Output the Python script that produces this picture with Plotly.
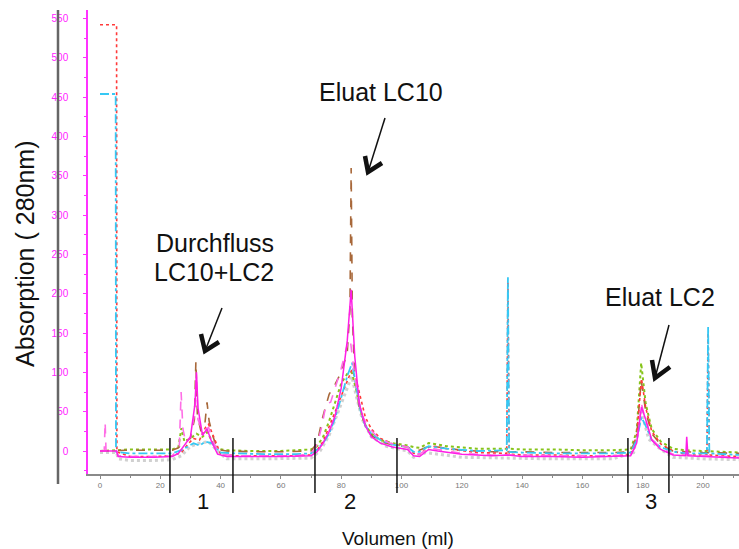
import plotly.graph_objects as go

W, H = 739, 549

# ---- data (ml, absorption) ----
red_x = [0, 5.5, 5.6, 10, 18, 24, 27, 29, 31, 33, 35, 36, 37.5, 40, 45, 55, 65, 70, 72, 74, 76, 78, 80, 82, 83.5, 85, 86.5, 88, 90, 93, 97, 102, 104, 106, 109, 111, 115, 125, 134.9, 135.3, 135.7, 140, 150, 160, 170, 176, 178, 179.6, 181, 183, 186, 190, 195, 201.3, 201.7, 202.1, 206, 212]
red_y = [542, 542, -1, -7, -7, -6, -2, 8, 16, 14, 30, 34, 20, -4, -6, -6, -6, -5, 1, 12, 30, 50, 70, 88, 103, 90, 65, 43, 28, 16, 9, 5, -3, -4, 5, 6, 3, -2, -3, 215, -4, -5, -5, -6, -6, -5, 20, 92, 55, 25, 9, 0, -5, -5, 150, -5, -6, -7]

cyan_x = [0, 5.2, 5.3, 10, 18, 24, 27, 29, 31, 33, 35, 37, 40, 45, 55, 65, 70, 72, 74, 76, 78, 80, 82, 83.6, 85, 86.5, 88, 90, 93, 97, 102, 104, 106, 109, 111, 115, 125, 134.9, 135.3, 135.7, 140, 150, 160, 170, 176, 178, 179.6, 181, 183, 186, 190, 195, 201.3, 201.7, 202.1, 206, 212]
cyan_y = [454, 454, -1, -3, -3, -3, 1, 6, 10, 7, 12, 10, -2, -3, -4, -4, -3, 2, 10, 22, 42, 68, 95, 112, 82, 50, 32, 22, 14, 8, 5, -1, -1, 6, 5, 3, 0, 1, 221, -1, -2, -3, -3, -3, -2, 14, 43, 32, 14, 5, -1, -3, -3, 158, -3, -4, -5]

green_x = [0, 3, 5.5, 10, 18, 24, 26, 27, 28, 30, 32, 34, 35.5, 37, 39, 42, 50, 60, 70, 72, 74, 76, 78, 80, 82, 83.5, 85, 86.5, 88, 90, 93, 97, 102, 104, 106, 109, 111, 115, 125, 135, 140, 150, 160, 170, 176, 178, 179.5, 181, 183, 186, 190, 194, 200, 206, 212]
green_y = [0, 1, 1, 2, 2, 2, 5, 29, 12, 16, 22, 18, 24, 14, 3, 1, 0, 0, 2, 6, 18, 38, 62, 86, 98, 100, 78, 50, 33, 22, 14, 10, 7, 5, 4, 10, 9, 6, 3, 3, 2, 2, 1, 1, 2, 25, 112, 60, 28, 12, 3, 1, 0, -1, -2]

magenta_x = [0, 5.5, 6, 10, 18, 24, 26, 28, 30, 31.5, 32, 32.5, 34, 35.5, 37, 39, 42, 50, 60, 70, 72, 74, 76, 78, 80, 82, 83.3, 84.5, 86, 88, 90, 93, 97, 102, 104, 106, 109, 112, 120, 130, 135, 140, 150, 160, 170, 176, 178, 179.6, 181, 183, 186, 190, 194.3, 194.6, 195, 200, 206, 212]
magenta_y = [0, 0, -7, -8, -8, -7, -3, 8, 18, 60, 100, 55, 20, 28, 12, -4, -7, -7, -7, -6, -1, 10, 25, 45, 80, 140, 205, 120, 60, 32, 18, 10, 5, 2, -6, -7, 2, 0, -4, -6, -5, -7, -7, -8, -7, -6, 10, 56, 40, 14, 2, -5, -6, 18, -6, -7, -8, -9]

brown_x = [0, 5.5, 10, 18, 24, 26, 28, 30, 31.3, 31.8, 32.3, 33.5, 34.8, 35.5, 36.2, 37.5, 39, 42, 50, 60, 70, 72, 74, 76, 78, 80, 82, 82.9, 83.3, 83.7, 84.5, 86, 88, 90, 93, 97, 102, 104, 106, 109, 112, 120, 130, 140, 150, 160, 170, 176, 178, 179.5, 181, 183, 186, 190, 200, 212]
brown_y = [0, 1, 1, 1, 1, 4, 12, 16, 40, 114, 45, 25, 35, 62, 38, 18, 2, 0, -1, -1, 0, 10, 45, 72, 85, 100, 125, 180, 360, 170, 95, 55, 32, 20, 12, 8, 5, 2, 1, 6, 5, 1, -1, -1, -2, -2, -2, -1, 18, 90, 50, 22, 8, 0, -2, -3]

pink_x = [0, 1.4, 1.7, 2.0, 5.5, 6, 10, 18, 24, 26.3, 26.9, 27.5, 28.5, 30, 31.5, 32, 32.5, 34, 36, 38, 40, 45, 55, 65, 70, 72, 73.5, 75, 76.5, 78, 80, 82, 83, 84, 85.5, 87, 89, 92, 96, 102, 104, 106, 109, 112, 120, 130, 140, 150, 160, 170, 176, 178, 179.6, 181, 183, 186, 190, 200, 212]
pink_y = [0, 0, 37, 0, 0, -6, -7, -7, -6, 5, 75, 28, 10, 18, 50, 95, 40, 25, 30, 8, -4, -6, -6, -6, -4, 8, 30, 60, 62, 80, 105, 135, 142, 110, 70, 45, 30, 18, 10, 5, -3, -4, 4, 2, -3, -5, -5, -6, -6, -6, -5, 8, 60, 38, 15, 4, -4, -6, -8]

grey_x = [0, 5.5, 6, 10, 18, 24, 27, 30, 33, 36, 39, 42, 55, 70, 73, 76, 79, 82, 83.5, 85, 87, 90, 95, 102, 104, 108, 112, 120, 135, 150, 170, 177, 179.6, 182, 186, 190, 200, 212]
grey_y = [-2, -2, -10, -12, -12, -11, -6, 6, 10, 12, 0, -10, -10, -9, 0, 20, 50, 80, 95, 70, 40, 18, 6, 0, -8, -2, -4, -8, -9, -10, -10, -2, 50, 15, 2, -8, -10, -11]

section_bounds_ml = [23.2, 44.1, 71.3, 98.5, 175.1, 188.7]
section_labels = ["1", "2", "3"]
section_label_ml = [34.2, 83.0, 182.7]

x_ticks = [0, 20, 40, 60, 80, 100, 120, 140, 160, 180, 200]
y_ticks = [0, 50, 100, 150, 200, 250, 300, 350, 400, 450, 500, 550]

series = [
    ("grey", grey_x, grey_y, "rgba(150,150,150,0.45)", "dot", 3),
    ("green", green_x, green_y, "#86c41a", "dot", 2),
    ("brown", brown_x, brown_y, "#a8683a", "dash", 1.6),
    ("red", red_x, red_y, "#ff3a3a", "dot", 1.6),
    ("cyan", cyan_x, cyan_y, "#36c8f4", "dashdot", 1.8),
    ("pink", pink_x, pink_y, "#ff6ee6", "dash", 1.6),
    ("magenta", magenta_x, magenta_y, "#ff1ee6", "solid", 1.5),
]

fig = go.Figure()
for name, xs, ys, col, dash, wd in series:
    fig.add_trace(go.Scatter(x=xs, y=ys, mode="lines", name=name,
                             line=dict(color=col, dash=dash, width=wd),
                             showlegend=False, hoverinfo="skip"))


def px(x):
    return x / W


def py(y):
    return 1 - y / H


FONT = "Liberation Sans, Arial, Helvetica, sans-serif"

shapes = []
# slide frame line on the left
shapes.append(dict(type="line", xref="paper", yref="paper", x0=px(58), x1=px(58),
                   y0=py(10), y1=py(484), line=dict(color="#666666", width=2.5)))
# section boundary lines
for b in section_bounds_ml:
    shapes.append(dict(type="line", xref="x", yref="paper", x0=b, x1=b,
                       y0=py(438), y1=py(493), line=dict(color="#111111", width=1.5)))

# arrows: (tail, tip, left arm, right arm) in pixels
arrows = [
    ((222, 308), (205, 351), (201, 334), (219, 342)),
    ((385, 118), (368, 172), (365, 156), (382, 163)),
    ((669, 325), (655, 378), (652, 360), (670, 367)),
]
for tail, tip, la, ra in arrows:
    shapes.append(dict(type="line", xref="paper", yref="paper",
                       x0=px(tail[0]), y0=py(tail[1]), x1=px(tip[0]), y1=py(tip[1]),
                       line=dict(color="#111111", width=1.5)))
    path = "M {} {} L {} {} L {} {}".format(px(la[0]), py(la[1]), px(tip[0]), py(tip[1]),
                                           px(ra[0]), py(ra[1]))
    shapes.append(dict(type="path", xref="paper", yref="paper", path=path,
                       line=dict(color="#111111", width=4.5)))

annotations = [
    dict(text="Eluat LC10", x=px(381), y=py(92), xanchor="center", yanchor="middle",
         font=dict(size=25, color="#111111", family=FONT)),
    dict(text="Durchfluss", x=px(154), y=py(243), xanchor="left", yanchor="middle",
         font=dict(size=25, color="#111111", family=FONT)),
    dict(text="LC10+LC2", x=px(152), y=py(272), xanchor="left", yanchor="middle",
         font=dict(size=25, color="#111111", family=FONT)),
    dict(text="Eluat LC2", x=px(603), y=py(297), xanchor="left", yanchor="middle",
         font=dict(size=25, color="#111111", family=FONT)),
    dict(text="Absorption ( 280nm)", x=px(25), y=py(254), xanchor="center", yanchor="middle",
         textangle=-90, font=dict(size=25, color="#111111", family=FONT)),
    dict(text="Volumen (ml)", x=px(398), y=py(538), xanchor="center", yanchor="middle",
         font=dict(size=19, color="#111111", family=FONT)),
]
for lab, ml in zip(section_labels, section_label_ml):
    annotations.append(dict(text=lab, x=ml, xref="x", y=py(501), yref="paper",
                            xanchor="center", yanchor="middle",
                            font=dict(size=22, color="#111111", family=FONT)))
for a in annotations:
    a.setdefault("xref", "paper")
    a.setdefault("yref", "paper")
    a["showarrow"] = False

fig.update_layout(
    width=W, height=H,
    margin=dict(l=0, r=0, t=0, b=0),
    paper_bgcolor="white", plot_bgcolor="white",
    shapes=shapes, annotations=annotations,
    xaxis=dict(domain=[88 / W, 1], range=[-3.98, 211.94], showgrid=False, zeroline=False,
               showline=True, linecolor="#8a8a8a", linewidth=1.5,
               ticks="outside", ticklen=3, tickcolor="#8a8a8a",
               tickvals=x_ticks, ticktext=[str(v) for v in x_ticks],
               minor=dict(dtick=10, ticks="outside", ticklen=2, tickcolor="#8a8a8a"),
               tickfont=dict(size=8, color="#777777", family=FONT)),
    yaxis=dict(domain=[(H - 474) / H, (H - 10) / H], range=[-29.25, 560.8], showgrid=False,
               zeroline=False, showline=True, linecolor="#ff33ff", linewidth=1.5,
               ticks="outside", ticklen=3, tickcolor="#ff33ff",
               tickvals=y_ticks, ticktext=[str(v) for v in y_ticks],
               minor=dict(dtick=25, ticks="outside", ticklen=2, tickcolor="#ff33ff"),
               ticklabelstandoff=13,
               tickfont=dict(size=10, color="#ff22ff", family=FONT)),
)

fig.write_html("out.html")
